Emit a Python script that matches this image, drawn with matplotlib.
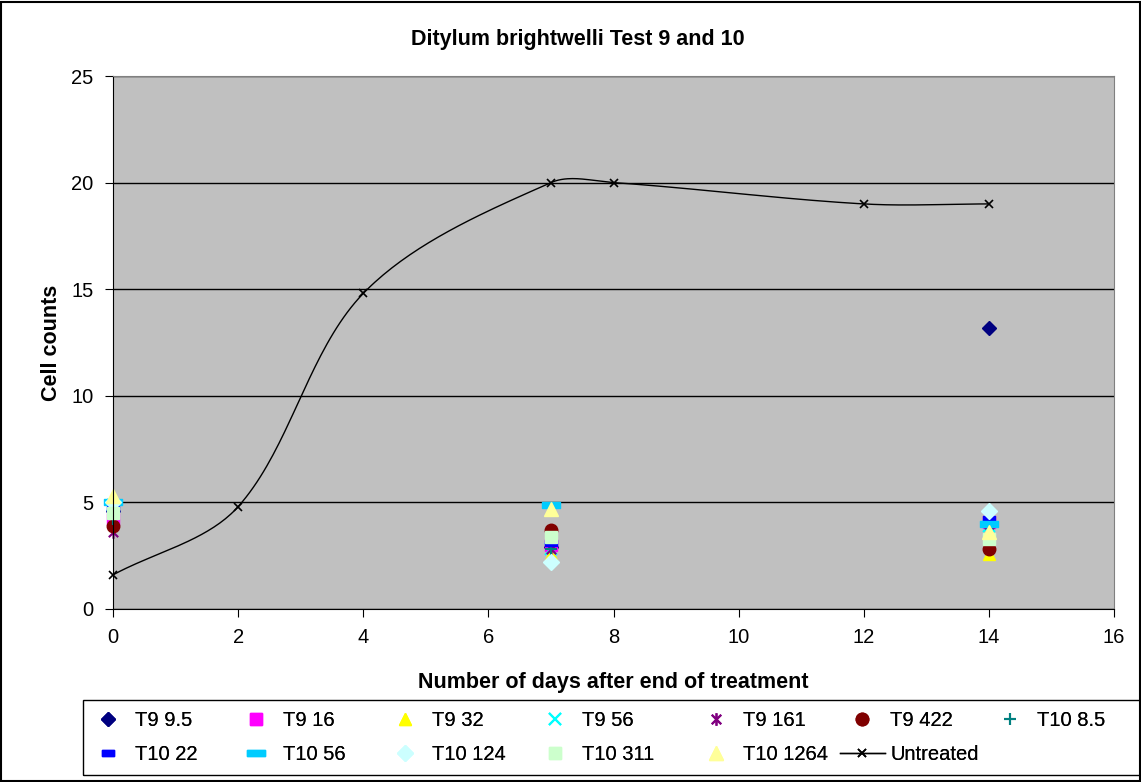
import numpy as np
import matplotlib.pyplot as plt
from matplotlib.path import Path

plt.rcParams['font.family'] = ['Liberation Sans', 'DejaVu Sans']

# Sampling days for the treated series
days = [0, 7, 14]

# Treated series: cell counts at day 0, 7, 14
labels = ['T9 9.5', 'T9 16', 'T9 32', 'T9 56', 'T9 161', 'T9 422', 'T10 8.5',
          'T10 22', 'T10 56', 'T10 124', 'T10 311', 'T10 1264']
t9_95 = [4.6, 2.9, 13.2]
t9_16 = [4.2, 3.0, 4.1]
t9_32 = [5.2, 2.6, 2.6]
t9_56 = [4.9, 2.8, 3.9]
t9_161 = [3.6, 2.8, 4.0]
t9_422 = [3.9, 3.7, 2.8]
t10_85 = [4.2, 2.8, 4.3]
t10_22 = [4.7, 3.1, 4.2]
t10_56 = [5.0, 4.9, 4.0]
t10_124 = [5.0, 2.2, 4.6]
t10_311 = [4.5, 3.4, 3.3]
t10_1264 = [5.3, 4.7, 3.6]
series = [t9_95, t9_16, t9_32, t9_56, t9_161, t9_422, t10_85,
          t10_22, t10_56, t10_124, t10_311, t10_1264]

# Untreated control
untreated_days = [0, 2, 4, 7, 8, 12, 14]
untreated = [1.6, 4.8, 14.8, 20.0, 20.0, 19.0, 19.0]

# marker shapes
star = Path([(0, -1), (0, 1), (-0.75, -0.75), (0.75, 0.75), (-0.75, 0.75), (0.75, -0.75)],
            [Path.MOVETO, Path.LINETO, Path.MOVETO, Path.LINETO, Path.MOVETO, Path.LINETO])
dash_short = Path([(-1, -0.45), (1, -0.45), (1, 0.45), (-1, 0.45), (-1, -0.45)],
                  [Path.MOVETO, Path.LINETO, Path.LINETO, Path.LINETO, Path.CLOSEPOLY])
dash_long = Path([(-1, -0.3), (1, -0.3), (1, 0.3), (-1, 0.3), (-1, -0.3)],
                 [Path.MOVETO, Path.LINETO, Path.LINETO, Path.LINETO, Path.CLOSEPOLY])

styles = [
    dict(marker='D', color='#000080', ms=7),
    dict(marker='s', color='#FF00FF', ms=8),
    dict(marker='^', color='#FFFF00', ms=9),
    dict(marker='x', color='#00FFFF', ms=8, mew=1.5),
    dict(marker=star, color='#800080', ms=9, mew=1.5),
    dict(marker='o', color='#800000', ms=9),
    dict(marker='+', color='#008080', ms=9, mew=1.5),
    dict(marker=dash_short, color='#0000FF', ms=9),
    dict(marker=dash_long, color='#00CCFF', ms=13),
    dict(marker='D', color='#CCFFFF', ms=8),
    dict(marker='s', color='#CCFFCC', ms=9),
    dict(marker='^', color='#FFFF99', ms=10),
]

W, H = 1141, 782
FS = 14.5   # regular text
FB = 15.5   # bold titles


def smooth_line(x, y, sx, sy, n=40):
    # bezier through the points, control arms scaled by neighbouring chord lengths
    x = np.asarray(x, float)
    y = np.asarray(y, float)
    m = len(x)
    d = np.hypot(np.diff(x) * sx, np.diff(y) * sy)
    px, py = [], []
    for i in range(m - 1):
        ip = max(i - 1, 0)
        iq = min(i + 2, m - 1)
        db = d[i - 1] if i > 0 else 0.0
        df = d[i + 1] if i + 2 < m else 0.0
        f1 = d[i] / (db + d[i]) / 3
        f2 = d[i] / (d[i] + df) / 3
        c1x = x[i] + (x[i + 1] - x[ip]) * f1
        c1y = y[i] + (y[i + 1] - y[ip]) * f1
        c2x = x[i + 1] - (x[iq] - x[i]) * f2
        c2y = y[i + 1] - (y[iq] - y[i]) * f2
        t = np.linspace(0, 1, n)
        a, b, c, e = (1 - t)**3, 3 * (1 - t)**2 * t, 3 * (1 - t) * t**2, t**3
        px.extend(a * x[i] + b * c1x + c * c2x + e * x[i + 1])
        py.extend(a * y[i] + b * c1y + c * c2y + e * y[i + 1])
    return np.array(px), np.array(py)


fig = plt.figure(figsize=(W / 100, H / 100), dpi=100)
ax = fig.add_axes([113 / W, 1 - 609 / H, 1001 / W, 533 / H])
ax.set_facecolor('#C0C0C0')

handles = []
for lab, vals, st in zip(labels, series, styles):
    st = dict(st)
    ms = st.pop('ms')
    h, = ax.plot(days, vals, linestyle='none', markersize=ms, markeredgecolor=st['color'],
                 markerfacecolor=st['color'], label=lab, clip_on=False, **st)
    handles.append(h)

ax.set_xlim(0, 16)
ax.set_ylim(0, 25)

cx, cy = smooth_line(untreated_days, untreated, 1001 / 16, 533 / 25)
ax.plot(cx, cy, color='black', lw=1, zorder=3)
ax.plot(untreated_days, untreated, linestyle='none', marker='x', color='black', ms=6,
        mew=1.2, clip_on=False, zorder=4)
h_un, = ax.plot([], [], color='black', lw=1, marker='x', ms=6, mew=1.2, label='Untreated')
handles.append(h_un)

ax.set_xticks(range(0, 17, 2))
ax.set_yticks(range(0, 26, 5))
ax.yaxis.grid(True, color='black', lw=1)
ax.set_axisbelow(True)
for s in ['top', 'right']:
    ax.spines[s].set_color('#808080')
for s in ['left', 'bottom']:
    ax.spines[s].set_color('black')
ax.tick_params(labelsize=FS, direction='out', length=6, pad=8)

fig.text(578 / W, 1 - 40 / H, 'Ditylum brightwelli Test 9 and 10', fontsize=FB,
         fontweight='bold', ha='center', va='center')
ax.set_ylabel('Cell counts', fontsize=FB, fontweight='bold', labelpad=7)
ax.set_xlabel('Number of days after end of treatment', fontsize=FB, fontweight='bold',
              labelpad=18)

# legend laid out as a 7-column grid, one legend per column
text_x = [135, 283, 432, 582, 743, 890, 1037]
legend_top = 711
for col in range(7):
    col_handles = handles[col::7]
    if col == 5:
        hl, tp = 2.24, 0.25
    else:
        hl, tp = 1.5, 0.6
    lg = fig.legend(handles=col_handles, loc='upper left',
                    bbox_to_anchor=(0, 1 - legend_top / H), frameon=False, fontsize=FS,
                    handlelength=hl, handletextpad=tp, labelspacing=0.76,
                    borderpad=0, borderaxespad=0)
    fig.canvas.draw()
    renderer = fig.canvas.get_renderer()
    txt_bb = lg.get_texts()[0].get_window_extent(renderer)
    lg.set_bbox_to_anchor(((text_x[col] - txt_bb.x0) / W, 1 - legend_top / H))
    fig.add_artist(lg)

# legend frame
fig.patches.append(plt.Rectangle((83 / W, 1 - 775 / H), (W + 5 - 83) / W, 75 / H,
                                 transform=fig.transFigure, fill=False,
                                 edgecolor='black', lw=1))

# outer chart border
fig.patches.append(plt.Rectangle((0.001, 0.001), 0.998, 0.997, transform=fig.transFigure,
                                 fill=False, edgecolor='black', lw=1.5))

fig.savefig('out.png', dpi=100)
